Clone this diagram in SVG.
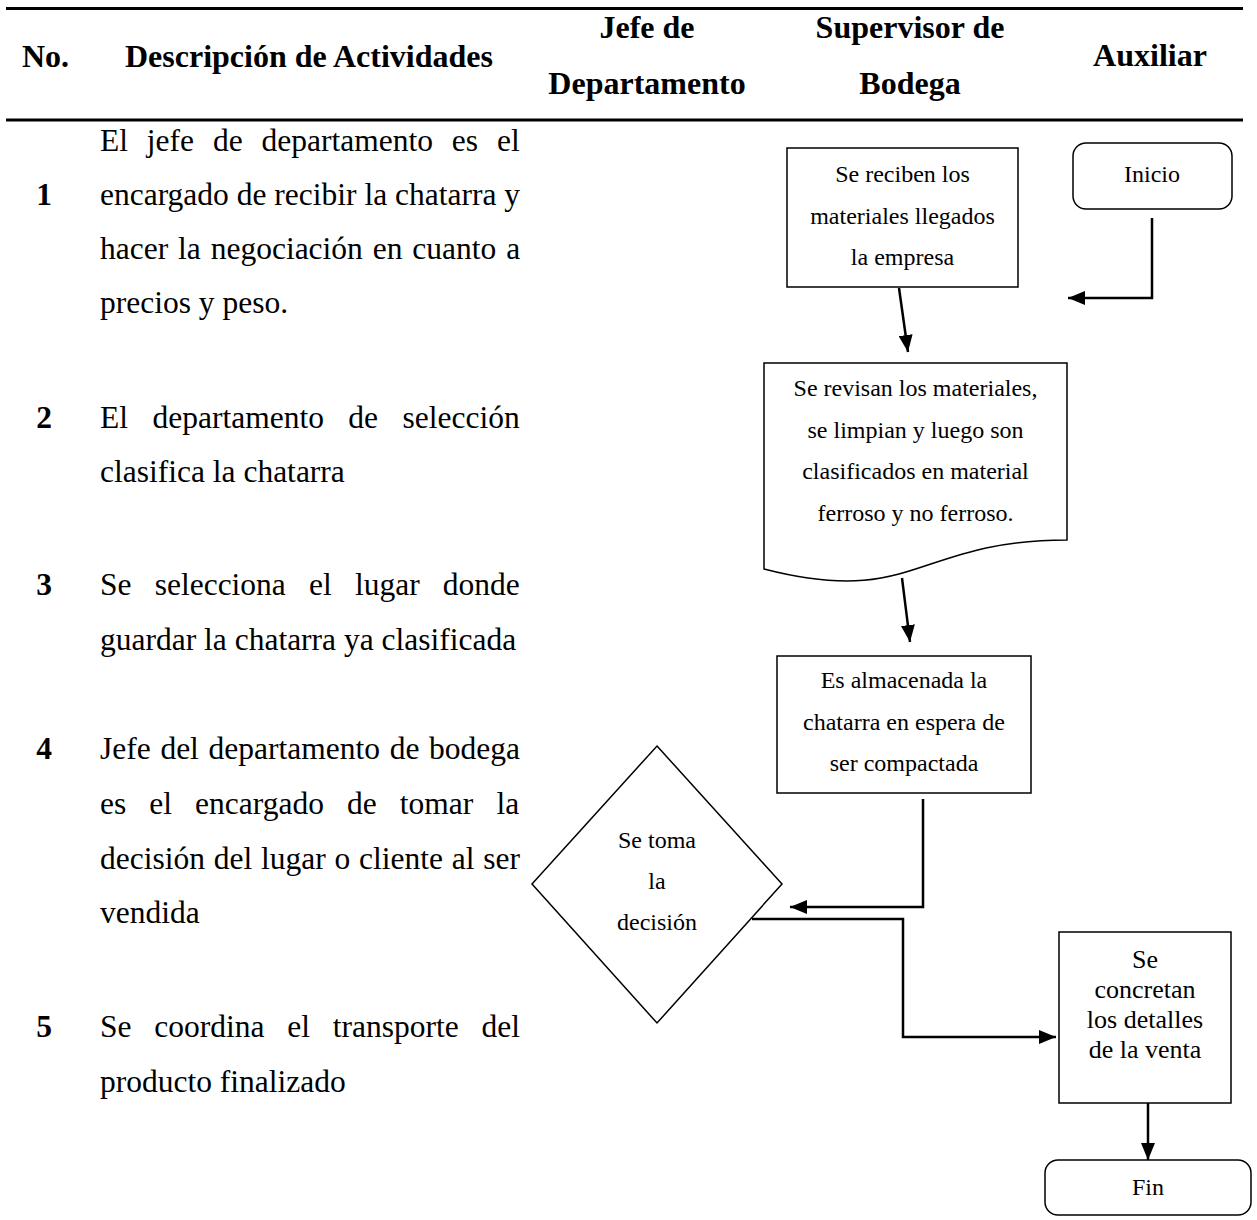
<svg xmlns="http://www.w3.org/2000/svg" width="1257" height="1220" viewBox="0 0 1257 1220">
  <defs>
    <marker id="arrow" markerUnits="userSpaceOnUse" markerWidth="17" markerHeight="14" refX="17" refY="7" orient="auto">
      <path d="M0,0 L17,7 L0,14 Z" fill="#000"/>
    </marker>
    <style>
      .hdr { font-family: "Liberation Serif", "Times New Roman", serif; font-weight: bold; font-size: 32px; fill: #000; }
      .num { font-family: "Liberation Serif", "Times New Roman", serif; font-weight: bold; font-size: 31.5px; fill: #000; text-anchor: middle; }
      .body { font-family: "Liberation Serif", "Times New Roman", serif; font-size: 31.5px; fill: #000; }
      .lbl { font-family: "Liberation Serif", "Times New Roman", serif; font-size: 24px; fill: #000; text-anchor: middle; }
      .lbl-big { font-family: "Liberation Serif", "Times New Roman", serif; font-size: 26px; fill: #000; text-anchor: middle; }
      .shape { fill: #fff; stroke: #000; stroke-width: 1.5; }
      .rule { stroke: #000; stroke-width: 3; }
      .conn { fill: none; stroke: #000; stroke-width: 2.5; marker-end: url(#arrow); }
    </style>
  </defs>

  <rect width="1257" height="1220" fill="#fff"/>

  <!-- table header -->
  <g id="header">
    <line class="rule" x1="6" y1="8.5" x2="1243" y2="8.5"/>
    <line class="rule" x1="6" y1="120" x2="1243" y2="120"/>
    <text class="hdr" x="22" y="67">No.</text>
    <text class="hdr" x="125" y="67">Descripción de Actividades</text>
    <text class="hdr" x="647" y="38" text-anchor="middle">Jefe de</text>
    <text class="hdr" x="647" y="94" text-anchor="middle">Departamento</text>
    <text class="hdr" x="910" y="38" text-anchor="middle">Supervisor de</text>
    <text class="hdr" x="910" y="94" text-anchor="middle">Bodega</text>
    <text class="hdr" x="1150" y="66" text-anchor="middle">Auxiliar</text>
  </g>

  <!-- activity descriptions (justified between x=100 and x=520) -->
  <g id="activities">
    <text class="num" x="44" y="205">1</text>
    <text class="body" x="100" y="151" style="word-spacing:11px">El jefe de departamento es el</text>
    <text class="body" x="100" y="205">encargado de recibir la chatarra y</text>
    <text class="body" x="100" y="259" style="word-spacing:2px">hacer la negociación en cuanto a</text>
    <text class="body" x="100" y="313">precios y peso.</text>

    <text class="num" x="44" y="428">2</text>
    <text class="body" x="100" y="428" style="word-spacing:16.6px">El departamento de selección</text>
    <text class="body" x="100" y="482">clasifica la chatarra</text>

    <text class="num" x="44" y="595">3</text>
    <text class="body" x="100" y="595" style="word-spacing:15.3px">Se selecciona el lugar donde</text>
    <text class="body" x="100" y="650">guardar la chatarra ya clasificada</text>

    <text class="num" x="44" y="759">4</text>
    <text class="body" x="100" y="759" style="word-spacing:1.8px">Jefe del departamento de bodega</text>
    <text class="body" x="100" y="814" style="word-spacing:15.2px">es el encargado de tomar la</text>
    <text class="body" x="100" y="869" style="word-spacing:0.9px">decisión del lugar o cliente al ser</text>
    <text class="body" x="100" y="923">vendida</text>

    <text class="num" x="44" y="1037">5</text>
    <text class="body" x="100" y="1037" style="word-spacing:14.9px">Se coordina el transporte del</text>
    <text class="body" x="100" y="1092">producto finalizado</text>
  </g>

  <!-- connectors -->
  <g id="connectors">
    <polyline class="conn" points="1152,218 1152,298 1068,298"/>
    <line class="conn" x1="899" y1="288" x2="908" y2="352"/>
    <line class="conn" x1="902" y1="578" x2="910" y2="642"/>
    <polyline class="conn" points="923,799 923,907 790,907"/>
    <polyline class="conn" points="752,919 903,919 903,1037 1056,1037"/>
    <line class="conn" x1="1148" y1="1093" x2="1148" y2="1160"/>
  </g>

  <!-- flowchart nodes -->
  <g id="node-inicio">
    <rect class="shape" x="1073" y="143" width="159" height="66" rx="13"/>
    <text class="lbl" x="1152" y="182">Inicio</text>
  </g>

  <g id="node-recepcion">
    <rect class="shape" x="787" y="148" width="231" height="139"/>
    <text class="lbl" x="902.5" y="182">Se reciben los</text>
    <text class="lbl" x="902.5" y="223.5">materiales llegados</text>
    <text class="lbl" x="902.5" y="265">la empresa</text>
  </g>

  <g id="node-clasificacion">
    <path class="shape" d="M764,363 H1067 V540 C915.5,540 915.5,608 764,569 Z"/>
    <text class="lbl" x="915.5" y="396">Se revisan los materiales,</text>
    <text class="lbl" x="915.5" y="437.5">se limpian y luego son</text>
    <text class="lbl" x="915.5" y="479">clasificados en material</text>
    <text class="lbl" x="915.5" y="520.5">ferroso y no ferroso.</text>
  </g>

  <g id="node-almacenaje">
    <rect class="shape" x="777" y="656" width="254" height="137"/>
    <text class="lbl" x="904" y="688">Es almacenada la</text>
    <text class="lbl" x="904" y="729.5">chatarra en espera de</text>
    <text class="lbl" x="904" y="771">ser compactada</text>
  </g>

  <g id="node-decision">
    <polygon class="shape" points="657,746 782,884 657,1023 532,884"/>
    <text class="lbl" x="657" y="848">Se toma</text>
    <text class="lbl" x="657" y="889">la</text>
    <text class="lbl" x="657" y="930">decisión</text>
  </g>

  <g id="node-venta">
    <rect class="shape" x="1059" y="932" width="172" height="171"/>
    <text class="lbl-big" x="1145" y="968">Se</text>
    <text class="lbl-big" x="1145" y="998">concretan</text>
    <text class="lbl-big" x="1145" y="1028">los detalles</text>
    <text class="lbl-big" x="1145" y="1058">de la venta</text>
  </g>

  <g id="node-fin">
    <rect class="shape" x="1045" y="1160" width="206" height="55" rx="13"/>
    <text class="lbl" x="1148" y="1195">Fin</text>
  </g>
</svg>
